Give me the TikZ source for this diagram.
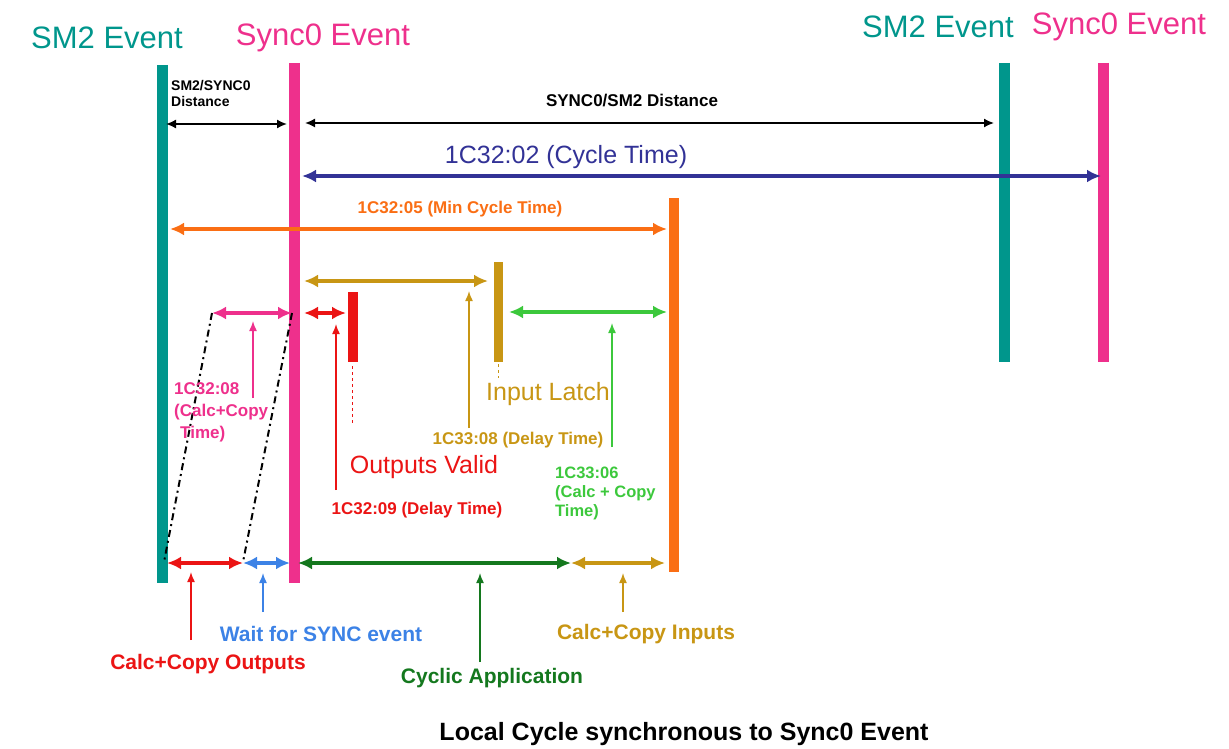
\documentclass[tikz,border=0pt]{standalone}
\usepackage{fontspec}
\setmainfont{Liberation Sans}
\usetikzlibrary{arrows.meta}

\definecolor{smcol}{RGB}{0,150,140}
\definecolor{synccol}{RGB}{238,48,140}
\definecolor{cyccol}{RGB}{50,50,150}
\definecolor{mincol}{RGB}{250,110,20}
\definecolor{latchcol}{RGB}{200,150,20}
\definecolor{lgreen}{RGB}{60,200,60}
\definecolor{dgreen}{RGB}{20,120,30}
\definecolor{outcol}{RGB}{235,20,20}
\definecolor{waitcol}{RGB}{60,130,230}

\begin{document}
\begin{tikzpicture}[x=1pt,y=-1pt,
  head/.style={font=\fontsize{31}{34}\selectfont},
  big/.style={font=\fontsize{25}{28}\selectfont},
  bot/.style={font=\fontsize{21}{24}\selectfont\bfseries},
  lbl/.style={font=\fontsize{17}{22}\selectfont\bfseries,align=left,inner sep=0pt},
  span/.style={{Latex[length=14pt,width=13pt]}-{Latex[length=14pt,width=13pt]},line width=4pt},
  thin span/.style={{Latex[length=10pt,width=9pt]}-{Latex[length=10pt,width=9pt]},line width=1.6pt},
  call/.style={-{Latex[length=10pt,width=8pt]},line width=1.5pt},
  bar/.style={line width=11pt}]
\useasboundingbox (0,0) rectangle (1229,749);

% event bars
\draw[bar,smcol] (162,65) -- (162,583);
\draw[bar,synccol] (294,63) -- (294,583);
\draw[bar,smcol] (1004,63) -- (1004,362);
\draw[bar,synccol] (1103,63) -- (1103,362);
\draw[line width=10pt,mincol] (674,198) -- (674,572);

\node(sm2) at (107,38)[head,smcol] {SM2 Event};
\node(sync0) at (323,38)[head,synccol] {Sync0 Event};
\node(sm2b) at (938,27)[head,smcol] {SM2 Event};
\node(sync0b) at (1119,27)[head,synccol] {Sync0 Event};

% distances
\node(d1) at (171,80)[anchor=north west,font=\fontsize{14}{16}\selectfont\bfseries,align=left,inner sep=0pt] {SM2/SYNC0\\Distance};
\draw[thin span] (166,124) -- (287,124);
\node(d2) at (632,101)[lbl] {SYNC0/SM2 Distance};
\draw[thin span] (305,123) -- (994,123);

\node(ct) at (566,157)[big,cyccol] {1C32:02 (Cycle Time)};
\draw[span,cyccol] (302,176) -- (1101,176);
\node(mct) at (460,209)[lbl,mincol] {1C32:05 (Min Cycle Time)};
\draw[span,mincol] (170,229) -- (667,229);

% input latch
\draw[span,latchcol] (304,281) -- (488,281);
\draw[line width=9pt,latchcol] (498,262) -- (498,362);
\draw[dashed,thick,latchcol] (498,364) -- (498,378);
\draw[span,lgreen] (509,312) -- (667,312);

% outputs valid
\draw[line width=10pt,outcol] (353,292) -- (353,362);
\draw[dashed,thick,outcol] (352,366) -- (352,425);
\draw[span,outcol] (304,313) -- (346,313);
\draw[span,synccol] (212,313) -- (292,313);

%\draw[dash dot] (212,313) -- (292,313);
\draw[line width=2pt,dash pattern=on 7pt off 4pt on 2pt off 4pt] (212,313) -- (164,562);
\draw[line width=2pt,dash pattern=on 7pt off 4pt on 2pt off 4pt] (292,313) -- (243,562);

\node(cc8) at (174,382)[anchor=north west,lbl,synccol] {1C32:08\\(Calc+Copy\\\hspace{6pt}Time)};
\draw[call,synccol] (253,398) -- (253,321);
\node(ov) at (424,467)[big,outcol] {Outputs Valid};
\node(dt9) at (417,510)[lbl,outcol] {1C32:09 (Delay Time)};
\draw[call,outcol] (336,490) -- (336,324);
\node(il) at (548,394)[big,latchcol] {Input Latch};
\node(dt8) at (518,440)[lbl,latchcol] {1C33:08 (Delay Time)};
\draw[call,latchcol] (469,428) -- (469,291);
\node(cc6) at (555,467)[anchor=north west,lbl,lgreen,font=\fontsize{16.5}{19}\selectfont\bfseries] {1C33:06\\(Calc + Copy\\Time)};
\draw[call,lgreen] (612,447) -- (612,323);

% local cycle
\draw[span,outcol] (167,563) -- (243,563);
\draw[span,waitcol] (243,563) -- (290,563);
\draw[span,dgreen] (298,563) -- (571,563);
\draw[span,latchcol] (571,563) -- (665,563);

\node(cco) at (208,664)[bot,outcol] {Calc+Copy Outputs};
\draw[call,outcol] (191,640) -- (191,572);
\node(ws) at (321,634)[bot,waitcol] {Wait for SYNC event};
\draw[call,waitcol] (263,612) -- (263,573);
\node(ca) at (492,678)[bot,dgreen] {Cyclic Application};
\draw[call,dgreen] (480,662) -- (480,573);
\node(cci) at (646,634)[bot,latchcol] {Calc+Copy Inputs};
\draw[call,latchcol] (623,612) -- (623,573);

\node(title) at (684,734)[font=\fontsize{25}{28}\selectfont\bfseries] {Local Cycle synchronous to Sync0 Event};
\end{tikzpicture}
\end{document}
